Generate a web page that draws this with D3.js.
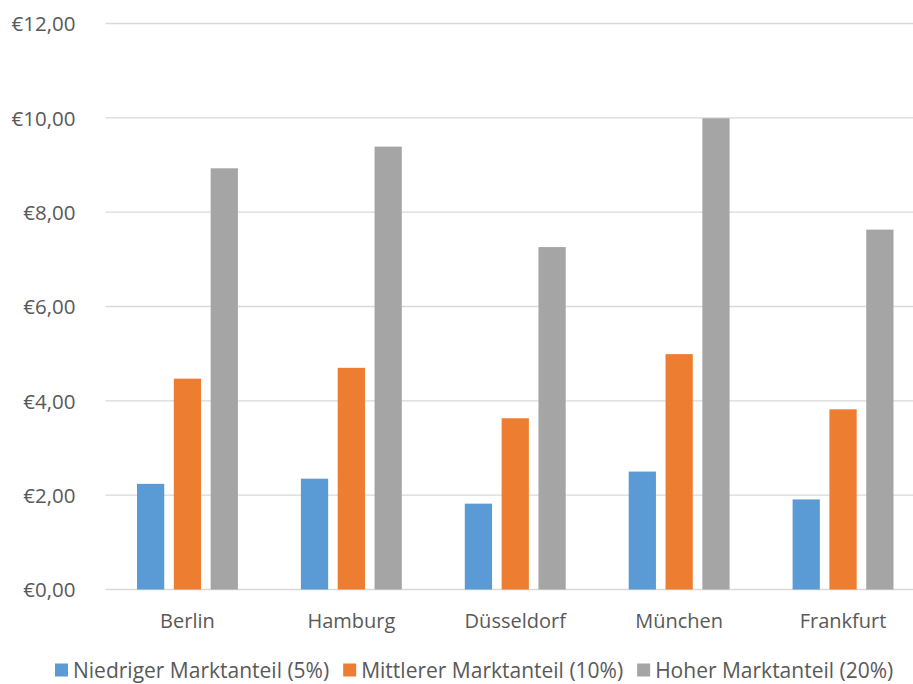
<!DOCTYPE html>
<html lang="de">
<head>
<meta charset="UTF-8" />
<title>Marktanteil je Stadt</title>
<script src="https://d3js.org/d3.v7.min.js"></script>
<style>
  html, body { margin: 0; padding: 0; background: #fff; }
  svg { display: block; }
  svg text { font-family: "Open Sans", "Noto Sans", sans-serif; fill: #595959; }
</style>
</head>
<body>
<div id="chart"></div>
<script>
  // Data
  const cities = ['Berlin', 'Hamburg', 'Düsseldorf', 'München', 'Frankfurt'];
  const seriesNames = ['Niedriger Marktanteil (5%)', 'Mittlerer Marktanteil (10%)', 'Hoher Marktanteil (20%)'];
  const niedrig = [2.24, 2.35, 1.82, 2.50, 1.91];
  const mittel = [4.47, 4.70, 3.63, 4.99, 3.82];
  const hoch = [8.93, 9.39, 7.26, 9.99, 7.63];
  const yTicks = [0, 2, 4, 6, 8, 10, 12];
  const colors = ['#5B9BD5', '#ED7D31', '#A5A5A5'];

  const seriesValues = [niedrig, mittel, hoch];
  const W = 913, H = 684;
  const plotLeft = 105.5, plotRight = 925, plotTop = 23.5, plotBottom = 589.5;

  const svg = d3.select('#chart').append('svg')
    .attr('width', W).attr('height', H);

  const x = d3.scaleBand().domain(cities).range([plotLeft, plotRight])
    .paddingInner(0).paddingOuter(0);
  const x1 = d3.scaleBand().domain(seriesNames)
    .range([31.5, x.bandwidth() - 31.5]).paddingInner(0.26);
  const y = d3.scaleLinear().domain([0, 12]).range([plotBottom, plotTop]);

  // gridlines
  svg.append('g').selectAll('line').data(yTicks).join('line')
    .attr('x1', plotLeft).attr('x2', plotRight)
    .attr('y1', d => y(d)).attr('y2', d => y(d))
    .attr('stroke', '#D9D9D9').attr('stroke-width', 1.3);

  // y axis labels
  const yAxis = svg.append('g')
    .attr('transform', `translate(${plotLeft - 27},0)`)
    .call(d3.axisLeft(y).tickValues(yTicks).tickSize(0)
      .tickFormat(d => '€' + d.toFixed(2).replace('.', ',')));
  yAxis.select('.domain').remove();
  yAxis.attr('font-family', null);
  yAxis.selectAll('text').attr('font-size', 20.5).attr('dy', '0.35em');

  // bars
  const groups = svg.append('g').selectAll('g').data(cities).join('g')
    .attr('transform', c => `translate(${x(c)},0)`);
  groups.selectAll('rect')
    .data((c, i) => seriesNames.map((s, j) => ({ s, v: seriesValues[j][i], j })))
    .join('rect')
    .attr('x', d => x1(d.s))
    .attr('width', x1.bandwidth())
    .attr('y', d => y(d.v))
    .attr('height', d => y(0) - y(d.v))
    .attr('fill', d => colors[d.j]);

  // x axis
  const xAxis = svg.append('g')
    .attr('transform', `translate(0,${plotBottom})`)
    .call(d3.axisBottom(x).tickSize(0).tickPadding(24));
  xAxis.select('.domain').remove();
  xAxis.attr('font-family', null);
  xAxis.selectAll('text').attr('font-size', 20);

  // legend
  const legend = svg.append('g').attr('transform', `translate(0,670)`);
  const items = legend.selectAll('g').data(seriesNames).join('g');
  items.append('rect').attr('width', 13).attr('height', 13).attr('y', -6.5)
    .attr('fill', (d, i) => colors[i]);
  items.append('text').attr('x', 18).attr('y', 7.5)
    .attr('font-size', 21).text(d => d);
  let pos = 55;
  items.each(function () {
    d3.select(this).attr('transform', `translate(${pos},0)`);
    pos += 18 + d3.select(this).select('text').node().getComputedTextLength() + 14;
  });
</script>
</body>
</html>
